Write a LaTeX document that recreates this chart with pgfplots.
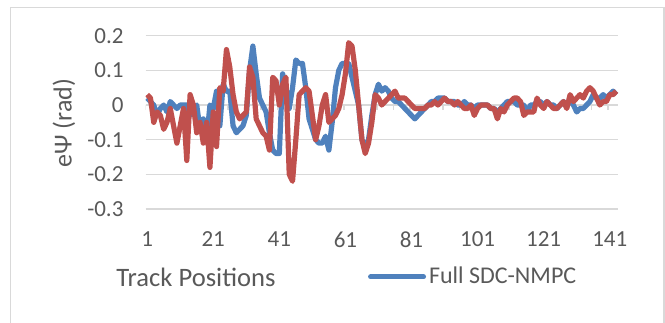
\documentclass[border=0pt]{standalone}
\usepackage{pgfplots}
\usepackage{pgfplotstable}
\pgfplotsset{compat=1.18}
\usepackage{fontspec}
\setmainfont{Carlito}
\definecolor{exblue}{HTML}{4F81BD}
\definecolor{exred}{HTML}{C0504D}
\definecolor{txt}{HTML}{595959}
\definecolor{grd}{HTML}{D9D9D9}

\pgfplotstableread{
i blue red
1 0.02 0.03
2 0.01 0.02
3 0.00 -0.05
4 -0.03 -0.02
5 -0.01 -0.03
6 0.00 -0.07
7 -0.02 -0.05
8 0.01 -0.01
9 0.00 -0.06
10 -0.01 -0.11
11 0.00 -0.06
12 0.00 -0.01
13 0.00 -0.16
14 -0.03 0.03
15 -0.01 0.00
16 0.00 -0.08
17 -0.07 -0.05
18 -0.04 -0.11
19 -0.10 -0.05
20 0.00 -0.18
21 -0.01 -0.02
22 0.04 -0.12
23 -0.06 0.05
24 0.06 0.04
25 0.04 0.16
26 0.04 0.11
27 -0.06 0.03
28 -0.08 -0.02
29 -0.07 -0.04
30 -0.06 -0.03
31 -0.03 -0.02
32 0.10 0.11
33 0.17 0.08
34 0.09 -0.04
35 0.02 -0.06
36 0.00 -0.08
37 -0.02 -0.09
38 -0.08 -0.13
39 -0.13 0.08
40 -0.14 0.07
41 -0.14 0.00
42 0.09 0.06
43 0.05 0.08
44 -0.01 -0.20
45 0.05 -0.22
46 0.13 -0.10
47 0.12 0.03
48 0.12 0.04
49 0.05 0.05
50 -0.04 0.04
51 -0.07 -0.03
52 -0.10 -0.10
53 -0.11 -0.06
54 -0.11 0.00
55 -0.09 0.03
56 -0.13 -0.05
57 -0.05 -0.04
58 0.05 -0.03
59 0.10 -0.01
60 0.12 0.03
61 0.12 0.09
62 0.12 0.18
63 0.08 0.17
64 0.04 0.10
65 0.00 0.00
66 -0.10 -0.10
67 -0.12 -0.14
68 -0.10 -0.11
69 -0.03 -0.05
70 0.03 0.03
71 0.06 0.02
72 0.04 0.00
73 0.05 0.01
74 0.04 0.02
75 0.02 0.03
76 0.01 0.04
77 0.01 0.02
78 0.00 0.02
79 -0.01 0.02
80 -0.02 0.01
81 -0.03 0.00
82 -0.04 -0.01
83 -0.03 -0.01
84 -0.02 -0.01
85 -0.01 -0.01
86 0.00 0.00
87 0.01 0.00
88 0.01 0.01
89 0.02 0.00
90 0.02 0.01
91 0.02 0.02
92 0.01 0.01
93 0.01 0.01
94 0.01 0.00
95 0.00 0.01
96 0.00 0.00
97 0.01 -0.01
98 0.00 -0.01
99 0.00 0.00
100 -0.01 -0.03
101 0.00 -0.01
102 0.00 0.00
103 0.00 0.00
104 0.00 0.00
105 -0.01 -0.01
106 -0.01 -0.01
107 -0.02 -0.04
108 -0.01 -0.01
109 0.00 -0.02
110 0.01 0.00
111 0.01 0.01
112 0.01 0.02
113 0.00 0.02
114 0.00 0.01
115 0.00 -0.03
116 -0.02 -0.02
117 0.00 -0.02
118 0.00 -0.02
119 0.01 0.02
120 0.01 0.00
121 0.00 -0.01
122 0.01 0.01
123 0.00 0.00
124 0.00 -0.01
125 -0.01 -0.01
126 0.00 0.00
127 0.01 0.01
128 0.00 -0.01
129 0.01 0.03
130 0.00 0.01
131 -0.02 0.02
132 -0.01 0.03
133 -0.01 0.02
134 0.00 0.04
135 0.01 0.05
136 0.03 0.04
137 0.02 0.02
138 0.02 0.00
139 0.03 0.01
140 0.02 0.01
141 0.03 0.03
142 0.04 0.03
143 0.03 0.04
}\datatable

\begin{document}
\begin{tikzpicture}
\useasboundingbox (0,0) rectangle (332.5bp,161.5bp);
\draw[grd, line width=0.75bp] (5.3bp,-1bp) -- (5.3bp,157.85bp) -- (331.9bp,157.85bp) -- (331.9bp,-1bp);
\begin{axis}[
  at={(72.75bp,57bp)}, anchor=south west,
  width=236.25bp, height=86.65bp, scale only axis,
  xmin=0.5, xmax=143.5, ymin=-0.3, ymax=0.2,
  axis line style={draw=none},
  major tick length=0pt,
  ymajorgrids, grid style={grd, line width=0.75bp},
  xtick={1,21,41,61,81,101,121,141},
  xticklabels={1,21,41,61,81,101,121,141},
  ytick={-0.3,-0.2,-0.1,0,0.1,0.2},
  yticklabels={-0.3,-0.2,-0.1,0,0.1,0.2},
  tick label style={font=\fontsize{11.5bp}{13bp}\selectfont, text=txt},
  xticklabel style={anchor=north, yshift=-8bp},
  yticklabel style={anchor=east, xshift=-7.5bp},
  xlabel={Track Positions},
  xlabel style={at={(axis description cs:-0.0624,-0.392)}, anchor=west, inner sep=0pt, font=\fontsize{13.3bp}{15bp}\selectfont, text=txt},
  ylabel={eΨ (rad)},
  ylabel style={at={(axis description cs:-0.1725,0.496)}, anchor=center, inner sep=0pt, font=\fontsize{13bp}{15bp}\selectfont, text=txt},
  legend style={at={(axis description cs:0.471,-0.392)}, anchor=west, draw=none, fill=none, inner sep=0pt, outer sep=0pt, nodes={inner sep=1.5bp}, font=\fontsize{12bp}{14bp}\selectfont, text=txt},
  legend image code/.code={\draw[#1, line width=2.5bp, line cap=round] (0bp,0bp) -- (26.5bp,0bp);},
  every axis plot/.append style={line width=2.6bp, line join=round, no markers},
]
\draw[grd, line width=0.75bp] (axis cs:0.5,0) -- (axis cs:143.5,0);
\pgfplotsinvokeforeach{0,...,28}{\draw[grd, line width=0.75bp] (axis cs:{0.5+5*#1},0) -- ([yshift=-2.5bp]axis cs:{0.5+5*#1},0);}
\addplot[exblue] table[x=i, y=blue] {\datatable};
\addlegendentry{Full SDC-NMPC}
\addplot[exred, forget plot] table[x=i, y=red] {\datatable};
\end{axis}
\end{tikzpicture}
\end{document}
